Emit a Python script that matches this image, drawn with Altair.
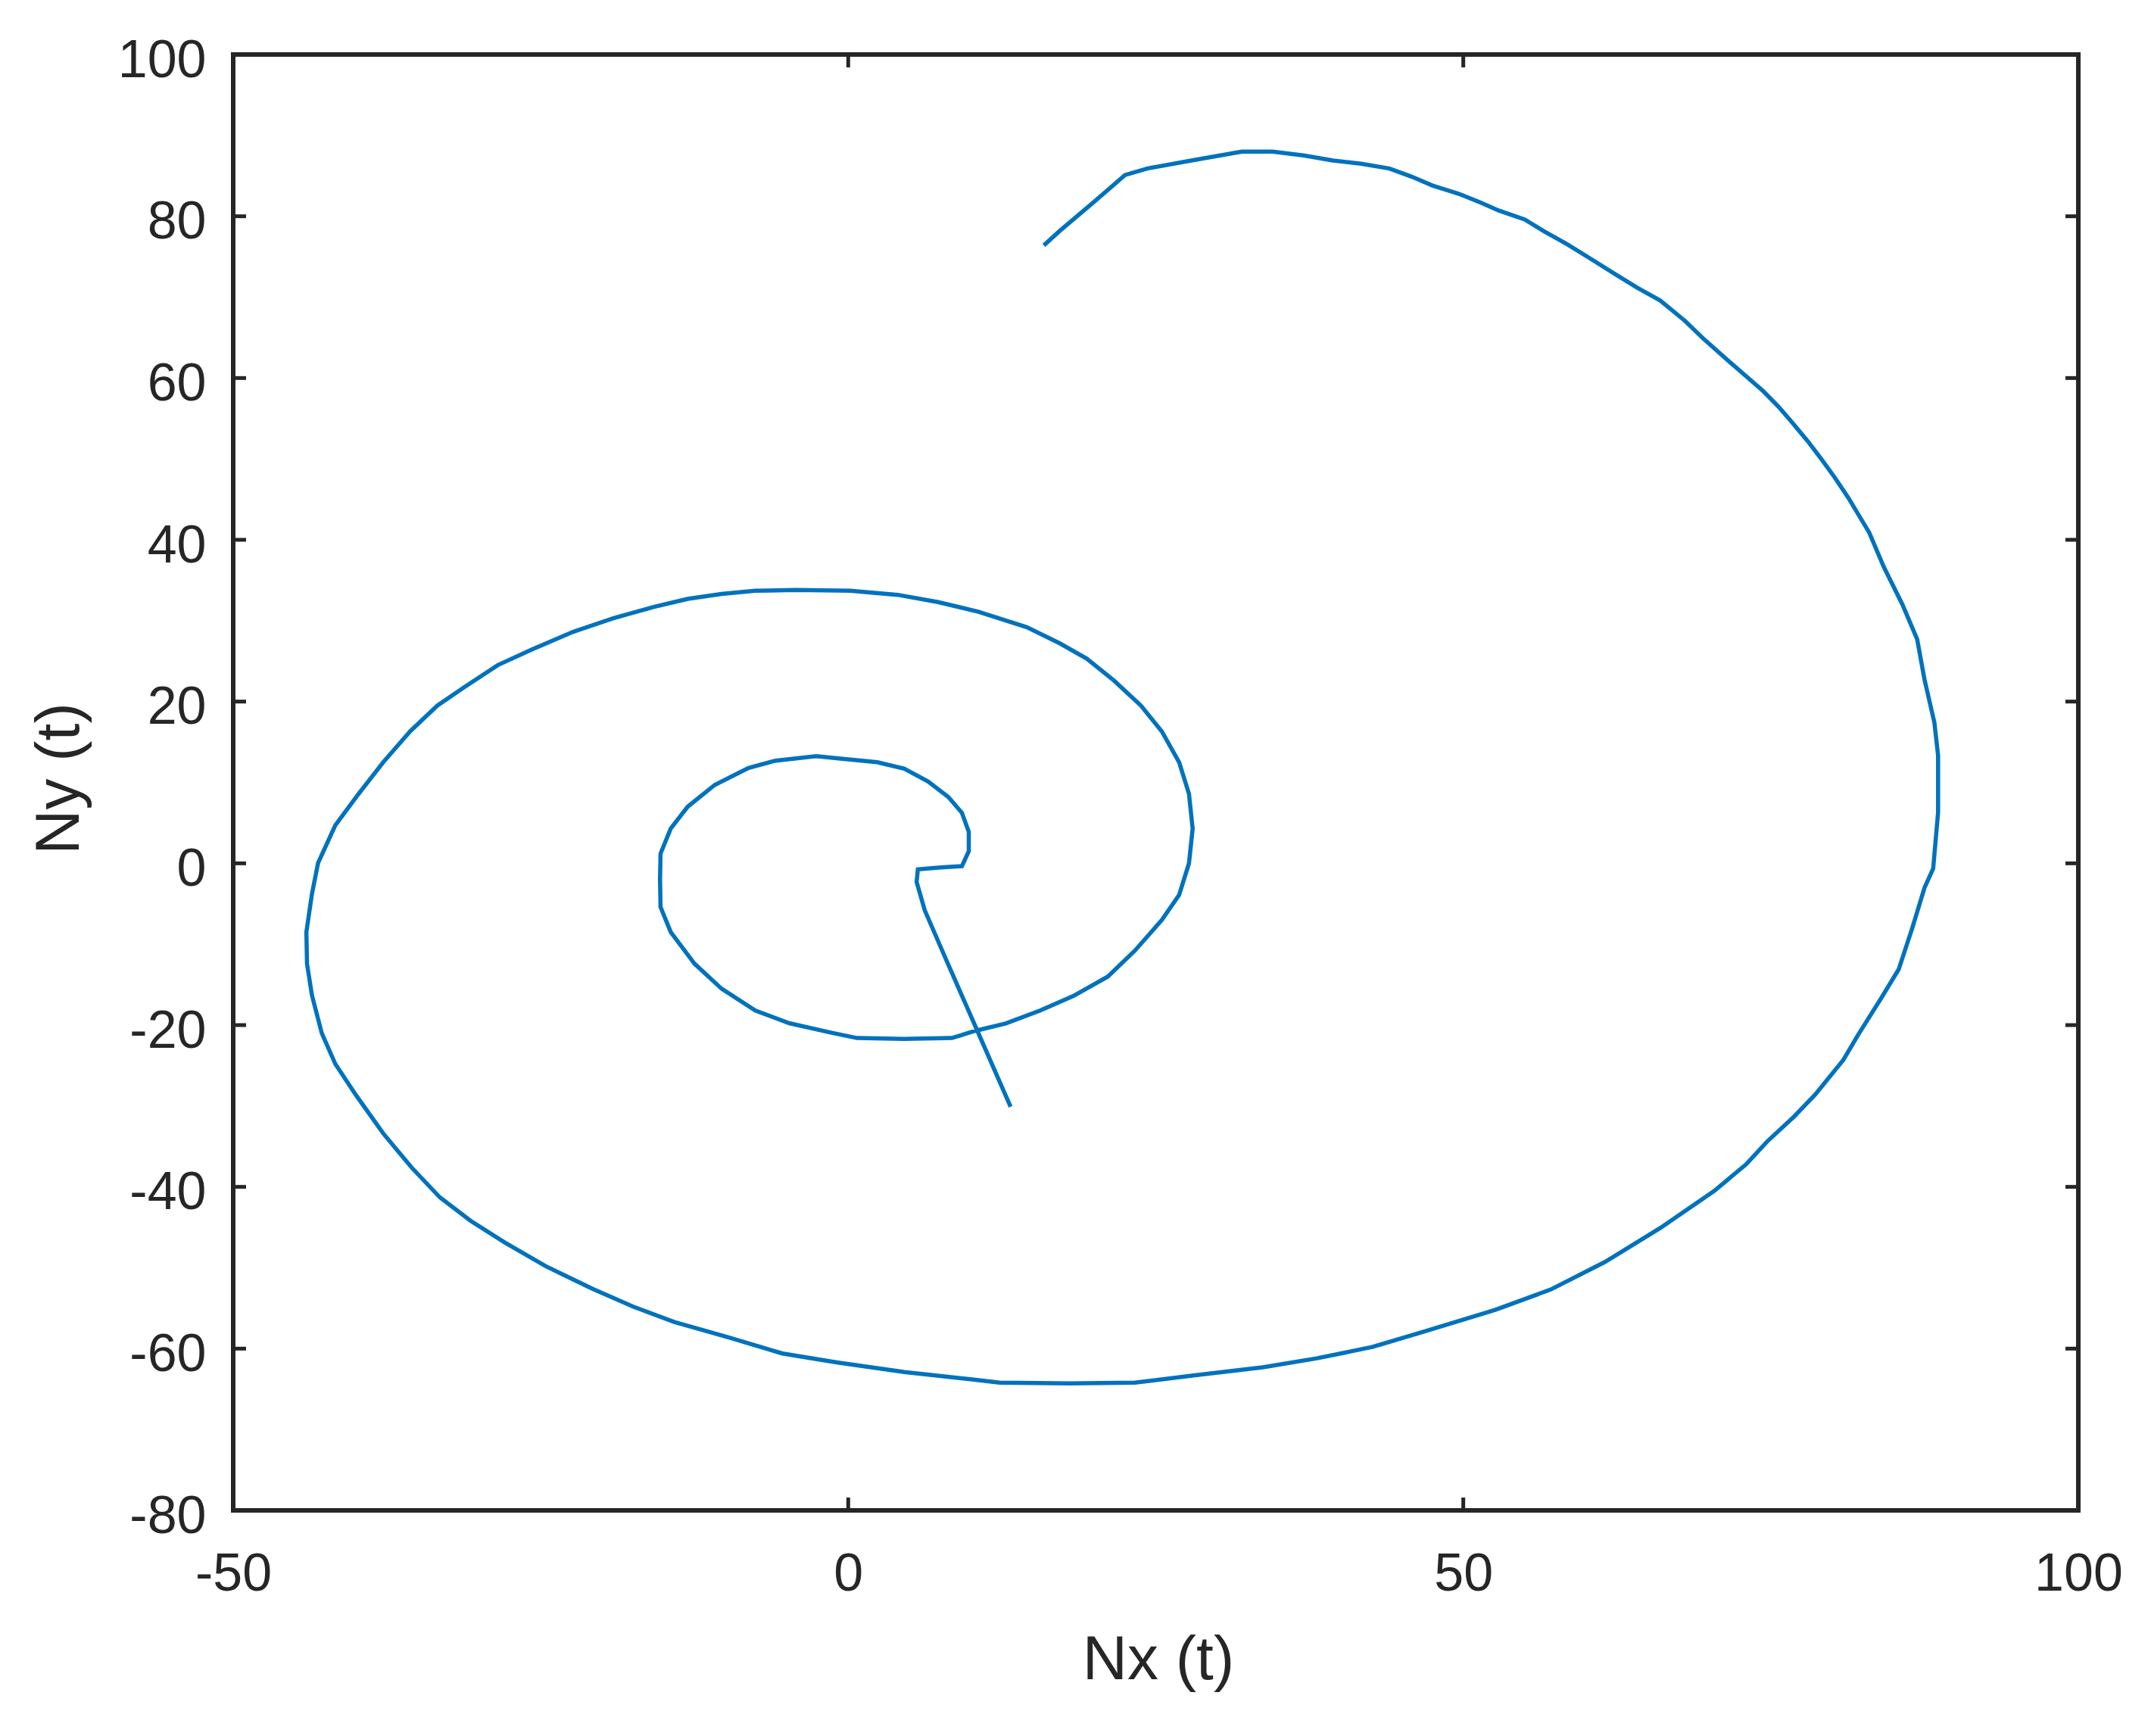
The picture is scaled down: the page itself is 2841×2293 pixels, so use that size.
import altair as alt
import pandas as pd

# Trajectory (ordered along the path)
NX = [13.2, 10.35, 7.87, 6.22, 5.56, 5.66, 7.5, 9.24, 9.8, 9.8, 9.24, 8.14, 6.5, 4.56, 2.36,
      -0.94, -2.6, -5.9, -8.1, -10.85, -13.05, -14.43, -15.26, -15.3, -15.26, -14.43, -12.5,
      -10.3, -7.55, -4.79, -1.49, 0.71, 4.5, 8.42, 10.35, 12.8, 15.6, 18.3, 21.1, 23.3, 25.5,
      26.9, 27.7, 28.0, 27.7, 26.9, 25.5, 23.8, 21.6, 19.4, 17.2, 14.5, 10.6, 7.3, 4.0, 0.16,
      -4.25, -7.55, -10.3, -13.05, -15.8, -19.1, -22.4, -25.7, -28.5, -31.2, -33.4, -35.6,
      -37.8, -39.8, -41.7, -43.1, -43.6, -44.05, -44.0, -43.6, -42.8, -41.7, -40.0, -37.8,
      -35.5, -33.2, -30.7, -27.9, -24.6, -20.8, -17.5, -14.15, -9.75, -5.35, -0.94, 4.56,
      10.07, 12.3, 18.0, 23.3, 28.2, 33.7, 38.1, 42.6, 47.0, 52.6, 57.1, 61.5, 66.0, 70.4,
      73.0, 74.7, 76.9, 78.6, 80.9, 82.1, 84.0, 85.4, 86.5, 87.5, 88.2, 88.6, 88.6, 88.3,
      87.5, 86.9, 85.7, 84.2, 83.0, 81.3, 80.2, 79.1, 78.0, 76.8, 75.6, 74.3, 71.8, 69.5,
      68.0, 66.0, 64.1, 62.4, 60.3, 58.5, 56.5, 55.0, 52.9, 51.4, 49.6, 47.5, 45.8, 44.0,
      41.7, 39.4, 37.1, 34.5, 32.0, 27.9, 24.3, 22.5, 20.0, 17.2, 15.9]
NY = [-30.1, -20.2, -11.6, -5.8, -2.3, -0.74, -0.5, -0.35, 1.5, 3.9, 6.25, 8.2, 10.1, 11.7,
      12.5, 13.0, 13.25, 12.7, 11.8, 9.7, 7.0, 4.3, 1.2, -2.0, -5.4, -8.5, -12.4, -15.5,
      -18.2, -19.77, -20.9, -21.6, -21.7, -21.6, -20.7, -19.8, -18.2, -16.4, -14.0, -10.8,
      -7.0, -3.9, 0.0, 4.3, 8.6, 12.5, 16.3, 19.5, 22.6, 25.3, 27.2, 29.2, 31.1, 32.3, 33.2,
      33.7, 33.8, 33.7, 33.3, 32.7, 31.7, 30.3, 28.6, 26.45, 24.5, 21.8, 19.5, 16.35, 12.5,
      8.6, 4.7, 0.04, -3.8, -8.5, -12.4, -16.3, -21.0, -24.8, -28.7, -33.4, -37.6, -41.3,
      -44.2, -46.9, -49.8, -52.6, -54.8, -56.7, -58.6, -60.6, -61.7, -62.9, -63.8, -64.2,
      -64.3, -64.2, -63.3, -62.3, -61.2, -59.8, -57.8, -55.2, -52.7, -49.3, -45.1, -40.5,
      -37.2, -34.4, -31.3, -28.6, -24.3, -21.2, -16.6, -13.1, -8.0, -3.0, -0.65, 6.3, 13.3,
      17.4, 22.7, 27.7, 32.0, 36.6, 40.9, 45.2, 47.7, 50.0, 52.2, 54.4, 56.5, 58.5, 61.8,
      64.9, 67.1, 69.6, 71.2, 72.8, 74.8, 76.5, 78.2, 79.6, 80.7, 81.7, 82.8, 83.8, 84.9,
      85.9, 86.5, 86.9, 87.5, 88.0, 88.0, 86.9, 85.9, 85.1, 81.8, 78.2, 76.4]

X_TICKS = [-50, 0, 50, 100]
Y_TICKS = [-80, -60, -40, -20, 0, 20, 40, 60, 80, 100]
X_TITLE = "Nx (t)"
Y_TITLE = "Ny (t)"

W, H = 2437, 1923
TICK = 17
INK = "#262626"
FONT = "Liberation Sans"
LABEL = "datum.value < 0 ? '-' + abs(datum.value) : '' + datum.value"

df = pd.DataFrame({"i": list(range(len(NX))), "nx": NX, "ny": NY})
xt = pd.DataFrame({"nx": X_TICKS})
yt = pd.DataFrame({"ny": Y_TICKS})

xs = alt.Scale(domain=[-50, 100], nice=False, zero=False)
ys = alt.Scale(domain=[-80, 100], nice=False, zero=False)

x_axis = alt.Axis(values=X_TICKS, title=X_TITLE, ticks=False, domain=False, grid=False,
                  labelExpr=LABEL,
                  labelPadding=50, labelFontSize=70, labelColor=INK, labelFont=FONT,
                  labelFlush=False, titleFont=FONT, titleFontSize=82, titleColor=INK,
                  titleFontWeight="normal", titleX=W / 2 + 3, titleY=222,
                  titleBaseline="alphabetic")
y_axis = alt.Axis(values=Y_TICKS, title=Y_TITLE, ticks=False, domain=False, grid=False,
                  labelExpr=LABEL,
                  labelPadding=36, labelOffset=8, labelFontSize=70, labelColor=INK,
                  labelFont=FONT, labelFlush=False, titleFont=FONT, titleFontSize=82,
                  titleColor=INK, titleFontWeight="normal", titleX=-205, titleY=956,
                  titleAngle=270, titleBaseline="alphabetic")

line = alt.Chart(df).mark_line(color="#0072BD", strokeWidth=5.5).encode(
    x=alt.X("nx:Q", scale=xs, axis=x_axis),
    y=alt.Y("ny:Q", scale=ys, axis=y_axis),
    order="i:Q",
)

tick_style = dict(color=INK, strokeWidth=5)
bottom = alt.Chart(xt).mark_rule(**tick_style).encode(
    x=alt.X("nx:Q", scale=xs, title=X_TITLE), y=alt.value(H), y2=alt.value(H - TICK))
top = alt.Chart(xt).mark_rule(**tick_style).encode(
    x=alt.X("nx:Q", scale=xs, title=X_TITLE), y=alt.value(0), y2=alt.value(TICK))
left = alt.Chart(yt).mark_rule(**tick_style).encode(
    y=alt.Y("ny:Q", scale=ys, title=Y_TITLE), x=alt.value(0), x2=alt.value(TICK))
right = alt.Chart(yt).mark_rule(**tick_style).encode(
    y=alt.Y("ny:Q", scale=ys, title=Y_TITLE), x=alt.value(W), x2=alt.value(W - TICK))

chart = alt.layer(line, bottom, top, left, right).properties(
    width=W, height=H,
    autosize=alt.AutoSizeParams(type="none"),
    padding={"left": 300, "top": 64, "right": 88, "bottom": 290},
    background="white",
).configure_view(stroke=INK, strokeWidth=6)

chart.save("out.html", embed_options={"renderer": "svg", "actions": False})
